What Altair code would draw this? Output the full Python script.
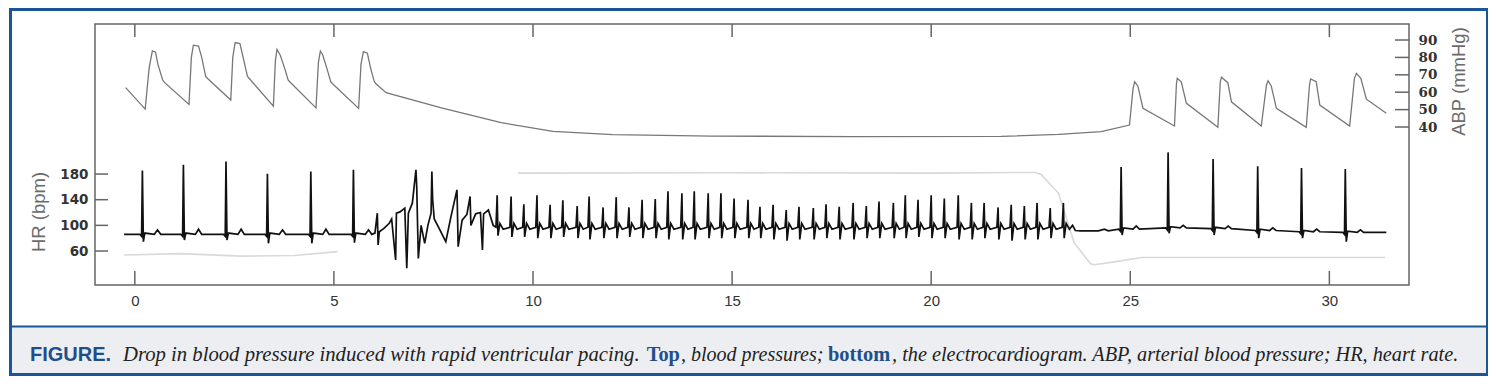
import altair as alt
import pandas as pd

# ---------------- data ----------------
# Arterial blood pressure trace (time s, mmHg)
abp_t = [-0.23, 0.26, 0.36, 0.44, 0.52, 0.58, 0.70, 0.75, 1.36, 1.42, 1.47, 1.60, 1.68, 1.78, 1.82,
         2.41, 2.46, 2.52, 2.64, 2.72, 2.83, 2.87, 3.48, 3.53, 3.57, 3.65, 3.76, 3.85, 3.89,
         4.55, 4.61, 4.66, 4.72, 4.82, 4.92, 4.96, 5.62, 5.68, 5.74, 5.84, 5.92, 6.01, 6.05, 6.31,
         7.7, 9.2, 10.5, 12.0, 14.5, 18.0, 21.76, 23.2, 24.27, 24.98,
         25.07, 25.11, 25.19, 25.32, 26.11, 26.16, 26.18, 26.28, 26.41, 27.20, 27.26, 27.29, 27.45, 27.54,
         28.29, 28.42, 28.46, 28.54, 28.67, 29.42, 29.50, 29.53, 29.67, 29.76, 30.51, 30.63, 30.68, 30.79,
         30.93, 31.43]
abp_v = [62.6, 50.3, 74, 83.7, 83, 76, 67, 65.5, 53, 80, 87, 86.5, 80, 69, 68,
         55.5, 80, 88.5, 88, 80, 69, 68, 52, 78, 84.6, 81.4, 74, 67, 66,
         51, 77, 83.7, 81.4, 74, 66, 65, 50.7, 76, 83.3, 82.4, 74, 66.4, 65, 59.7,
         51.0, 42.5, 37.5, 35.6, 34.8, 34.5, 34.6, 35.8, 37.3, 41.1,
         62, 66, 63.6, 50.7, 40.6, 65, 68, 66, 53.6, 39.8, 66, 68.6, 65.5, 54.5,
         40.6, 64, 66.6, 63.6, 50.7, 39.8, 64, 67.6, 66, 52.6, 40.6, 68, 70.8, 68,
         56, 47.9]

# Heart-rate trend (light grey), two segments
hr_t = [-0.27, 1.15, 2.66, 4.0, 5.09,
        9.62, 15.0, 20.0, 22.6, 22.76, 23.2, 23.59, 24.0, 24.1, 24.6, 25.28, 31.4]
hr_v = [53.7, 56, 52, 53, 59,
        181.5, 182, 181.5, 182.5, 179.5, 150, 73, 40, 38.5, 43, 50, 50]
hr_seg = [0, 0, 0, 0, 0,
          1, 1, 1, 1, 1, 1, 1, 1, 1, 1, 1, 1]

# ECG: sinus beats before pacing
pre_t = [0.19, 1.22, 2.29, 3.33, 4.42, 5.49]
pre_peak = [185.6, 194.6, 199.7, 180.5, 184.0, 186.7]
pre_trough = [74.5, 77, 77, 72, 72, 73]
pre_base = [86, 86, 86, 86, 86, 86]
pre_twave = [93, 94, 94, 93, 94, 93]

# ECG: irregular onset of pacing
onset_t = [6.03, 6.09, 6.11, 6.14, 6.25, 6.39, 6.45, 6.55, 6.57, 6.66, 6.78, 6.83, 6.87, 6.97, 7.06,
           7.08, 7.12, 7.19, 7.28, 7.36, 7.44, 7.46, 7.48, 7.52, 7.62, 7.81, 7.94, 8.09, 8.10, 8.12,
           8.22, 8.34, 8.42, 8.44, 8.56, 8.68, 8.73, 8.76, 8.88, 9.0]
onset_v = [88, 119, 69.4, 90, 95, 103.3, 110, 46, 119, 121, 126.8, 33, 119, 134.6, 186.7,
           160, 48.5, 100, 72, 100, 119, 184, 140, 110, 98, 74.5, 113.7, 155.4, 130, 66.7,
           108, 117, 145, 100, 118, 120, 61.5, 118, 124, 100]

# ECG: regular paced beats
paced_t = [9.10, 9.45, 9.77, 10.10, 10.43, 10.75, 11.11, 11.41, 11.76, 12.09, 12.41, 12.74, 13.07,
           13.39, 13.74, 14.05, 14.40, 14.72, 15.05, 15.40, 15.70, 16.03, 16.36, 16.68, 17.04, 17.36,
           17.69, 18.04, 18.37, 18.69, 19.05, 19.35, 19.67, 20.00, 20.33, 20.68, 21.01, 21.33, 21.68,
           22.01, 22.34, 22.66, 22.99, 23.32]
paced_peak = [147, 145, 133, 147, 132, 139, 130, 145, 128, 144, 128, 140, 141, 153, 150, 153, 150,
              150, 142, 140, 129, 132, 124, 129, 127, 133, 129, 135, 130, 137, 135, 147, 140, 147,
              142, 147, 135, 135, 128, 132, 130, 135, 127, 135]
paced_trough = [84, 82, 82, 80, 80, 82, 80, 78, 80, 80, 82, 80, 80, 78, 78, 78, 80, 80, 80, 80, 80,
                78, 76, 78, 78, 80, 78, 78, 80, 80, 80, 80, 82, 80, 80, 78, 78, 80, 78, 76, 78, 78,
                80, 80]
paced_base = 97

# ECG: after pacing stops
gap_t = [23.55, 23.62, 23.75, 24.2, 24.35, 24.45]
gap_v = [100, 92, 91.5, 91.5, 94, 91.5]
post_t = [24.77, 25.95, 27.08, 28.2, 29.3, 30.4]
post_peak = [191, 213.8, 203.5, 192, 189.4, 187.8]
post_trough = [85, 87.7, 85, 80, 80, 74.5]
post_base = [94, 96, 95, 92, 90, 89]
post_twave = [99, 100, 99, 96, 94, 93]
ecg_end = (31.43, 89)

x_ticks = [0, 5, 10, 15, 20, 25, 30]
hr_ticks = [60, 100, 140, 180]
abp_ticks = [40, 50, 60, 70, 80, 90]

# ---------------- build tables ----------------
rows = [(-0.27, 86)]
def sinus(t, pk, tr, base, tw):
    rows.extend([(t - 0.06, base), (t - 0.02, base - 3), (t, pk), (t + 0.025, tr),
                 (t + 0.06, base + 2), (t + 0.30, base), (t + 0.38, tw), (t + 0.46, base)])
for a in zip(pre_t, pre_peak, pre_trough, pre_base, pre_twave):
    sinus(*a)
rows.extend(zip(onset_t, onset_v))
for t, pk, tr in zip(paced_t, paced_peak, paced_trough):
    rows.extend([(t - 0.03, paced_base), (t, pk), (t + 0.02, tr),
                 (t + 0.07, paced_base + 6), (t + 0.15, paced_base - 3)])
rows.extend(zip(gap_t, gap_v))
for a in zip(post_t, post_peak, post_trough, post_base, post_twave):
    sinus(*a)
rows.append(ecg_end)
ecg = pd.DataFrame(rows, columns=["t", "v"])
ecg["i"] = range(len(ecg))

abp = pd.DataFrame({"t": abp_t, "v": abp_v, "i": range(len(abp_t))})
hr = pd.DataFrame({"t": hr_t, "v": hr_v, "seg": hr_seg, "i": range(len(hr_t))})
xt = pd.DataFrame({"t": x_ticks})
ht = pd.DataFrame({"v": hr_ticks})
at = pd.DataFrame({"v": abp_ticks})
one = pd.DataFrame({"a": [0]})

# ---------------- scales ----------------
W, H = 1314, 261
xs = alt.Scale(domain=[-1, 32], nice=False, zero=False)
hs = alt.Scale(domain=[7, 414], nice=False, zero=False)
ps = alt.Scale(domain=[-50.8, 99.2], nice=False, zero=False)
FRAME = "#666666"
BLUE = "#1a5696"
TEXTBLUE = "#1f4f8a"
SERIF = "'Liberation Serif', 'Times New Roman', Times, serif"

# ---------------- decoration ----------------
panel = alt.Chart(one).mark_rect(fill="#eceef1").encode(
    x=alt.value(-84), x2=alt.value(1392), y=alt.value(302), y2=alt.value(350.5))
sep = alt.Chart(one).mark_rule(color=BLUE, strokeWidth=2).encode(
    x=alt.value(-84), x2=alt.value(1392), y=alt.value(302.5))
border = alt.Chart(one).mark_rect(fill=None, stroke=BLUE, strokeWidth=3).encode(
    x=alt.value(-84.5), x2=alt.value(1392.5), y=alt.value(-14.5), y2=alt.value(350.5))

cap_y = 336.7
def cap(txt, x, font, size, color, weight="normal", style="normal"):
    return alt.Chart(one).mark_text(text=txt, align="left", baseline="alphabetic", font=font,
                                    fontSize=size, color=color, fontWeight=weight,
                                    fontStyle=style).encode(x=alt.value(x), y=alt.value(cap_y))

captions = [
    cap("FIGURE.", -65, "Liberation Sans", 20, TEXTBLUE, weight="bold"),
    cap("Drop in blood pressure induced with rapid ventricular pacing.", 28, SERIF, 20.7, "#222222", style="italic"),
    cap("Top", 551.7, SERIF, 20.4, TEXTBLUE, weight="bold"),
    cap(", blood pressures;", 586, SERIF, 20.0, "#222222", style="italic"),
    cap("bottom", 733, SERIF, 20.4, TEXTBLUE, weight="bold"),
    cap(", the electrocardiogram. ABP, arterial blood pressure; HR, heart rate.", 797, SERIF, 20.3, "#222222", style="italic"),
]

# ---------------- data layers ----------------
hr_line = alt.Chart(hr).mark_line(color="#d9d9d9", strokeWidth=1.6).encode(
    x=alt.X("t:Q", scale=xs, axis=None),
    y=alt.Y("v:Q", scale=hs, axis=None),
    detail="seg:N", order="i:Q")

abp_line = alt.Chart(abp).mark_line(color="#777777", strokeWidth=1.3).encode(
    x=alt.X("t:Q", scale=xs, axis=None),
    y=alt.Y("v:Q", scale=ps, axis=None),
    order="i:Q")

ecg_line = alt.Chart(ecg).mark_line(color="#111111", strokeWidth=1.7).encode(
    x=alt.X("t:Q", scale=xs, axis=None),
    y=alt.Y("v:Q", scale=hs, axis=None),
    order="i:Q")

x_axis = alt.Axis(values=x_ticks, ticks=False, domain=False, grid=False, format="d",
                  labelFont="Liberation Sans", labelFontSize=15, labelColor="#333333",
                  labelPadding=8, title=None, orient="bottom", labelOverlap=False)
xtick_bottom = alt.Chart(xt).mark_rule(color=FRAME, strokeWidth=1.5).encode(
    x=alt.X("t:Q", scale=xs, axis=x_axis), y=alt.value(H - 14), y2=alt.value(H))
xtick_top = alt.Chart(xt).mark_rule(color=FRAME, strokeWidth=1.5).encode(
    x=alt.X("t:Q", scale=xs, axis=None), y=alt.value(0), y2=alt.value(13))

hr_axis = alt.Axis(values=hr_ticks, ticks=False, domain=False, grid=False, orient="left",
                   labelFont="DejaVu Sans", labelFontWeight="bold", labelFontSize=13.5,
                   labelColor="#333333", labelPadding=7, labelOverlap=False,
                   title="HR (bpm)", titleFont="Liberation Sans", titleFontSize=18.5,
                   titleFontWeight="normal", titleColor="#6b6b6b", titleAngle=270,
                   titleX=-56.5, titleY=187.5, titleAlign="center", titleBaseline="middle")
htick = alt.Chart(ht).mark_rule(color=FRAME, strokeWidth=1.5).encode(
    y=alt.Y("v:Q", scale=hs, axis=hr_axis), x=alt.value(0), x2=alt.value(13))

abp_axis = alt.Axis(values=abp_ticks, ticks=False, domain=False, grid=False, orient="right",
                    labelFont="DejaVu Serif", labelFontWeight="bold", labelFontSize=13.5,
                    labelColor="#333333", labelPadding=9, labelOverlap=False,
                    title="ABP (mmHg)", titleFont="Liberation Sans", titleFontSize=18.5,
                    titleFontWeight="normal", titleColor="#6b6b6b", titleAngle=270,
                    titleX=49.5, titleY=57, titleAlign="center", titleBaseline="middle")
atick = alt.Chart(at).mark_rule(color=FRAME, strokeWidth=1.5).encode(
    y=alt.Y("v:Q", scale=ps, axis=abp_axis), x=alt.value(W - 14), x2=alt.value(W))

chart = alt.layer(
    panel, sep, border, *captions,
    hr_line, abp_line, ecg_line,
    xtick_bottom, xtick_top, htick, atick,
).resolve_scale(y="independent").resolve_axis(x="independent", y="independent").properties(
    width=W, height=H,
    padding={"left": 87, "top": 16, "right": 79, "bottom": 91},
    autosize=alt.AutoSizeParams(type="none"),
    background="white",
).configure_view(stroke=FRAME, strokeWidth=1.5)

chart.save("out.html", embed_options={"renderer": "svg", "actions": False})
